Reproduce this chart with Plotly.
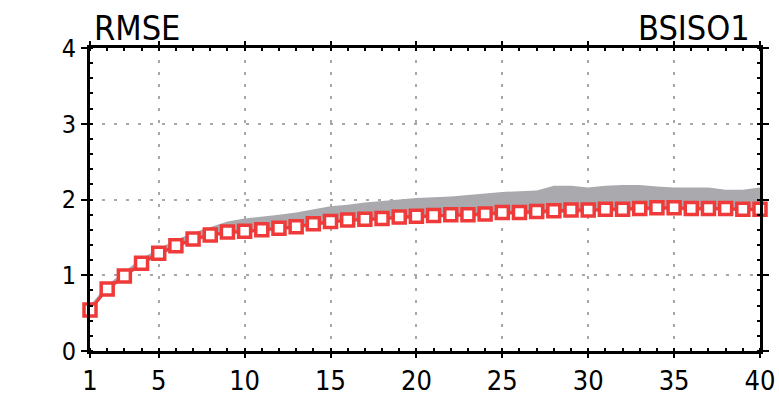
import plotly.graph_objects as go

# Forecast lead time (days)
lead_days = list(range(1, 41))

# RMSE of the model forecast (red squares)
rmse_model = [0.54, 0.82, 0.99, 1.16, 1.29, 1.39, 1.48, 1.53, 1.57, 1.58,
              1.60, 1.62, 1.64, 1.68, 1.71, 1.73, 1.74, 1.75, 1.77, 1.78,
              1.79, 1.80, 1.80, 1.81, 1.83, 1.83, 1.84, 1.85, 1.86, 1.86,
              1.87, 1.87, 1.88, 1.89, 1.89, 1.88, 1.88, 1.88, 1.87, 1.87]

# Spread range shown as the grey band
band_upper = [0.60, 0.87, 1.05, 1.22, 1.35, 1.47, 1.56, 1.63, 1.71, 1.75,
              1.77, 1.80, 1.83, 1.87, 1.91, 1.93, 1.96, 1.98, 2.00, 2.02,
              2.03, 2.04, 2.06, 2.08, 2.10, 2.11, 2.12, 2.18, 2.18, 2.16,
              2.18, 2.19, 2.19, 2.17, 2.16, 2.16, 2.16, 2.13, 2.13, 2.16]
band_lower = [0.52, 0.79, 0.96, 1.13, 1.26, 1.36, 1.45, 1.50, 1.54, 1.55,
              1.57, 1.59, 1.61, 1.65, 1.68, 1.70, 1.71, 1.72, 1.74, 1.75,
              1.76, 1.77, 1.77, 1.78, 1.80, 1.80, 1.81, 1.82, 1.83, 1.83,
              1.84, 1.84, 1.85, 1.86, 1.86, 1.85, 1.85, 1.85, 1.84, 1.84]

x_ticks = [1, 5, 10, 15, 20, 25, 30, 35, 40]
y_ticks = [0, 1, 2, 3, 4]

FONT = "Liberation Sans Narrow, DejaVu Sans Condensed, Liberation Sans, sans-serif"
RED = "#f03a3a"
GREY = "#aaa9ad"

fig = go.Figure()

fig.add_trace(go.Scatter(x=lead_days, y=band_lower, mode="lines",
                         line=dict(width=0, color=GREY), hoverinfo="skip",
                         showlegend=False))
fig.add_trace(go.Scatter(x=lead_days, y=band_upper, mode="lines",
                         line=dict(width=0, color=GREY), fill="tonexty",
                         fillcolor=GREY, hoverinfo="skip", showlegend=False))
fig.add_trace(go.Scatter(x=lead_days, y=rmse_model, mode="lines+markers",
                         line=dict(color=RED, width=3),
                         marker=dict(symbol="square", size=12, color="white",
                                     line=dict(color=RED, width=3.5)),
                         cliponaxis=False, showlegend=False))

axis_common = dict(showline=True, linecolor="black", linewidth=3, mirror="allticks",
                   showgrid=True, gridcolor="#a8a8a8", gridwidth=1.5,
                   griddash="3px,9px", automargin=False,
                   zeroline=False, ticks="outside", tickwidth=2,
                   tickcolor="black")

fig.update_xaxes(range=[1, 40], tickvals=x_ticks, ticktext=[str(v) for v in x_ticks],
                 ticklen=4,
                 tickfont=dict(family=FONT, size=27, color="black"),
                 minor=dict(dtick=1, tick0=0, ticks="inside", ticklen=3,
                            tickwidth=2, tickcolor="black", showgrid=False),
                 **axis_common)
fig.update_yaxes(range=[0, 4], tickvals=y_ticks, ticktext=[str(v) for v in y_ticks],
                 ticklen=6,
                 tickfont=dict(family=FONT, size=25, color="black"),
                 minor=dict(dtick=0.2, ticks="inside", ticklen=3,
                            tickwidth=2, tickcolor="black", showgrid=False),
                 **axis_common)

fig.add_annotation(text="RMSE", xref="paper", yref="paper", x=0.003, y=1.0,
                   xanchor="left", yanchor="bottom", yshift=-2, showarrow=False,
                   font=dict(family=FONT, size=34, color="black"))
fig.add_annotation(text="BSISO1", xref="paper", yref="paper", x=0.988, y=1.0,
                   xanchor="right", yanchor="bottom", yshift=-2, showarrow=False,
                   font=dict(family=FONT, size=34, color="black"))

fig.update_layout(width=779, height=396, autosize=False,
                  margin=dict(l=90, r=19, t=48, b=45),
                  paper_bgcolor="white", plot_bgcolor="white")

fig.write_html("out.html")
